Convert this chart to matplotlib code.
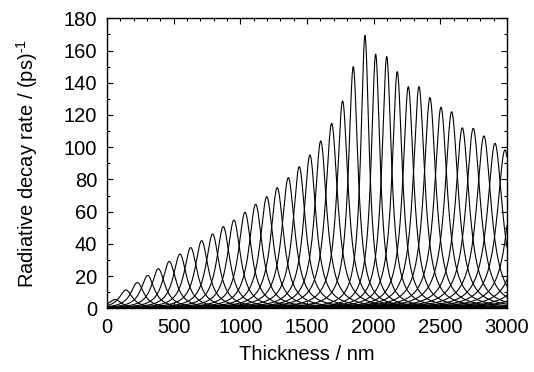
import numpy as np
import matplotlib
matplotlib.use('Agg')
from matplotlib import pyplot as plt
from matplotlib.ticker import MultipleLocator

# Picos de cada modo: posición (nm), altura (1/ps) y semi-anchura (nm)
peak_pos = [60, 142, 227, 305, 385, 467, 547, 628, 710, 792, 872, 952,
            1035, 1115, 1198, 1277, 1360, 1442, 1522, 1603, 1685, 1767,
            1847, 1935, 2015, 2098, 2177, 2260, 2340, 2422, 2505, 2585,
            2665, 2747, 2827, 2910, 2985, 3067, 3148, 3230, 3311]
peak_height = [5.4, 11.4, 16.0, 20.4, 24.6, 29.1, 33.7, 37.7, 42.0, 46.1,
               50.7, 54.8, 59.6, 64.6, 69.3, 74.9, 81.1, 87.9, 95.2, 103.9,
               114.8, 128.7, 150.0, 169.4, 157.8, 156.3, 146.9, 137.6,
               137.6, 130.8, 124.8, 122.0, 112.0, 111.7, 107.0, 102.4,
               98.3, 96.0, 93.0, 90.0, 87.0]
peak_width = [60, 60, 60, 60, 60, 60, 60, 60, 60, 60, 60, 60, 60, 60, 60,
              60, 60, 58, 56, 55, 55, 50, 43, 38, 40, 43, 46, 49, 52, 55,
              58, 61, 63, 65, 67, 69, 71, 72, 72, 72, 72]

plt.rcParams['font.family'] = ['Liberation Sans', 'DejaVu Sans']
plt.rcParams['mathtext.fontset'] = 'custom'
plt.rcParams['mathtext.rm'] = 'Liberation Sans'

fig = plt.figure(figsize=(5.34, 3.72), dpi=100)
ax = fig.add_axes([0.2004, 0.1712, 0.749, 0.7796])

d = np.linspace(0, 3000, 6001)
for x0, h, w in zip(peak_pos, peak_height, peak_width):
    rate = h / (1 + ((d - x0) / w) ** 2)
    ax.plot(d, rate, color='black', lw=0.8)

ax.set_xlim(0, 3000)
ax.set_ylim(0, 180)
ax.xaxis.set_major_locator(MultipleLocator(500))
ax.xaxis.set_minor_locator(MultipleLocator(100))
ax.yaxis.set_major_locator(MultipleLocator(20))
ax.yaxis.set_minor_locator(MultipleLocator(10))
ax.tick_params(which='both', direction='in', top=True, right=True, width=0.8)
ax.tick_params(which='major', length=4.5, pad=7, labelsize=14.5)
ax.tick_params(which='minor', length=2.5)
for s in ax.spines.values():
    s.set_linewidth(1.0)

ax.set_xlabel('Thickness / nm', fontsize=14.5, labelpad=6)
ax.set_ylabel(r'Radiative decay rate / (ps)$^{\text{-}1}$', fontsize=14.5,
              labelpad=17)

fig.savefig('out.png', dpi=100)
